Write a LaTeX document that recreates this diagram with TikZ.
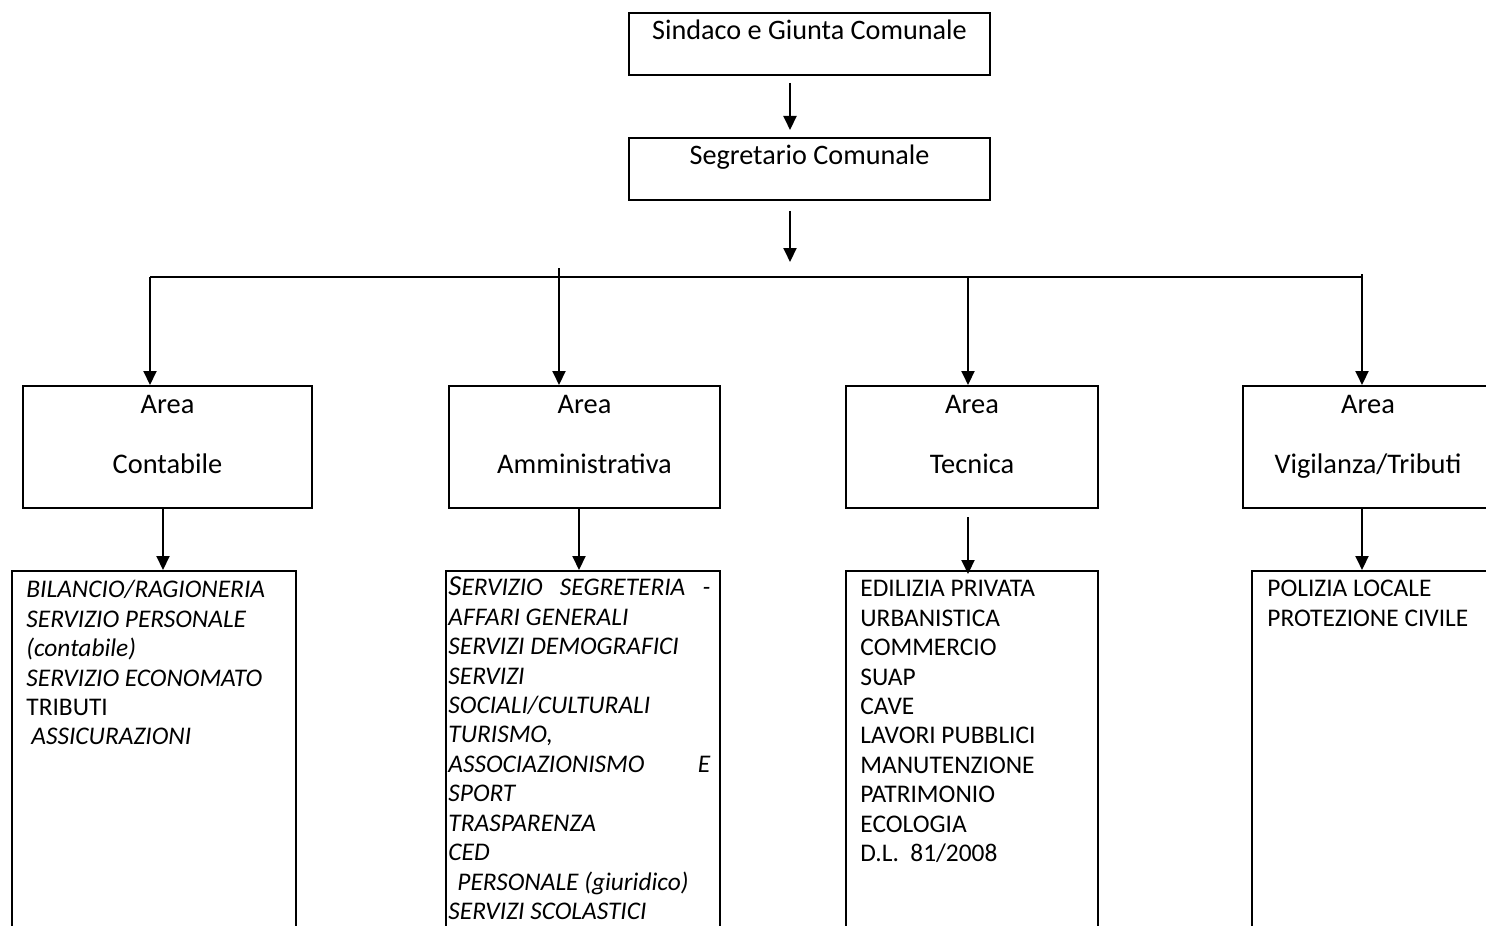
\documentclass[tikz,border=0pt]{standalone}
\usepackage{fontspec}
\setmainfont{Carlito}
\usetikzlibrary{arrows.meta}
\tikzstyle{topblock} = [draw, line width=1pt, minimum width=180.5pt, inner sep=0pt, text height=13.5pt, text depth=17.5pt, font=\fontsize{14.1pt}{16.8pt}\selectfont]
\tikzstyle{areablock} = [draw, line width=1pt, minimum height=61pt, inner sep=0pt, align=center, font=\fontsize{14.2pt}{16.8pt}\selectfont]
\tikzstyle{listframe} = [draw, line width=1pt, minimum height=214.5pt, inner sep=0pt]
\tikzstyle{listtext} = [anchor=north west, inner sep=0pt, align=left, font=\fontsize{12.7pt}{14.72pt}\selectfont, execute at begin node=\rule{0pt}{9pt}]
\tikzstyle{arr} = [-{Triangle[length=7pt,width=6.5pt]}, line width=1pt]

\begin{document}
\begin{tikzpicture}[x=0.5pt, y=-0.5pt]
    \useasboundingbox (0,0) rectangle (1486,925);
    \clip (0,0) rectangle (1486,925);

    \node[topblock] (sindaco) at (809.5,44) {Sindaco e Giunta Comunale};
    \node[topblock] (segretario) at (809.5,169) {Segretario Comunale};

    \node[areablock, minimum width=144.5pt] (contabile) at (167.5,447) {Area\\[13.2pt]Contabile\\[-4pt]\mbox{}};
    \node[areablock, minimum width=135.5pt] (amministrativa) at (584.5,447) {Area\\[13.2pt]Amministrativa\\[-4pt]\mbox{}};
    \node[areablock, minimum width=126pt] (tecnica) at (972,447) {Area\\[13.2pt]Tecnica\\[-4pt]\mbox{}};
    \node[areablock, minimum width=125pt] (vigilanza) at (1368,447) {Area\\[13.2pt]Vigilanza/Tributi\\[-4pt]\mbox{}};

    \node[listframe, minimum width=142pt] (contlist) at (154,785.5) {};
    \node[listframe, minimum width=137pt] (ammlist) at (583,785.5) {};
    \node[listframe, minimum width=126pt] (teclist) at (972,785.5) {};
    \node[listframe, minimum width=120.5pt] (viglist) at (1372.5,785.5) {};

    \node[listtext] (contitems) at (26,580) {\textit{BILANCIO/RAGIONERIA}\\ \textit{SERVIZIO PERSONALE}\\ \textit{(contabile)}\\ \textit{SERVIZIO ECONOMATO}\\ TRIBUTI\\ \hspace*{2.5pt}\textit{ASSICURAZIONI}};
    \node[listtext, font=\fontsize{12.7pt}{14.72pt}\selectfont\itshape] (ammitems) at (448,576.5) {\makebox[131pt][l]{{\fontsize{14.5pt}{14.72pt}\selectfont S}ERVIZIO\hfill SEGRETERIA\hfill -}\\ AFFARI GENERALI\\ SERVIZI DEMOGRAFICI\\ SERVIZI\\ SOCIALI/CULTURALI\\ TURISMO,\\ \makebox[131pt][l]{ASSOCIAZIONISMO\hfill E}\\ SPORT\\ TRASPARENZA\\ CED\\ \hspace*{4.5pt}PERSONALE (giuridico)\\ SERVIZI SCOLASTICI};
    \node[listtext] (tecitems) at (860,580) {EDILIZIA PRIVATA\\ URBANISTICA\\ COMMERCIO\\ SUAP\\ CAVE\\ LAVORI PUBBLICI\\ MANUTENZIONE\\ PATRIMONIO\\ ECOLOGIA\\ D.L.~~81/2008};
    \node[listtext] (vigitems) at (1267,580) {POLIZIA LOCALE\\ PROTEZIONE CIVILE};

    \coordinate (spine) at (790,0);
    \coordinate (busin) at (790,262);
    \coordinate (busL) at (150,277);
    \coordinate (busR) at (1362,277);
    \coordinate (b2) at (559,268);
    \coordinate (b3) at (968,277);
    \coordinate (b4) at (1362,274);
    \coordinate (c1) at (163,0);
    \coordinate (c2) at (579,0);
    \coordinate (c3) at (968,0);
    \coordinate (c4) at (1362,0);

    \draw[arr, shorten <=3.5pt, shorten >=3.5pt] (sindaco.south -| spine) -- (segretario.north -| spine);
    \draw[arr, shorten <=5pt] (segretario.south -| spine) -- (busin);
    \draw[line width=1pt] (busL) -- (busR);
    \draw[arr] (busL) -- (contabile.north -| busL);
    \draw[arr] (b2) -- (amministrativa.north -| b2);
    \draw[arr] (b3) -- (tecnica.north -| b3);
    \draw[arr] (b4) -- (vigilanza.north -| b4);
    \draw[arr] (contabile.south -| c1) -- (contlist.north -| c1);
    \draw[arr] (amministrativa.south -| c2) -- (ammlist.north -| c2);
    \draw[arr, shorten <=4pt] (tecnica.south -| c3) -- ([yshift=-2pt]teclist.north -| c3);
    \draw[arr] (vigilanza.south -| c4) -- (viglist.north -| c4);
\end{tikzpicture}
\end{document}
